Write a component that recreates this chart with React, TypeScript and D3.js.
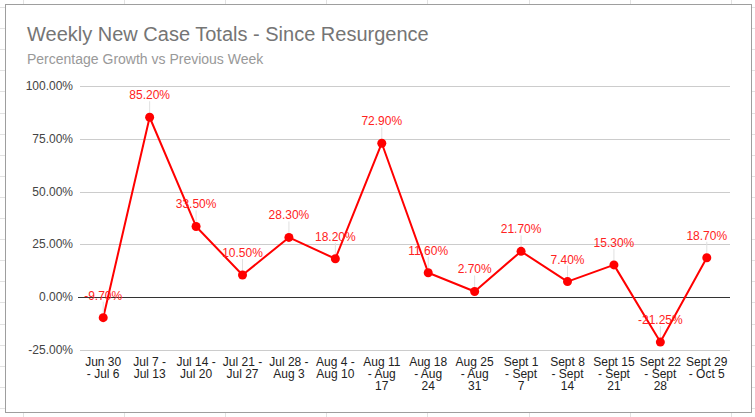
import React from 'react'
import * as d3 from 'd3'

const weeks = [
  'Jun 30 - Jul 6', 'Jul 7 - Jul 13', 'Jul 14 - Jul 20', 'Jul 21 - Jul 27',
  'Jul 28 - Aug 3', 'Aug 4 - Aug 10', 'Aug 11 - Aug 17', 'Aug 18 - Aug 24',
  'Aug 25 - Aug 31', 'Sept 1 - Sept 7', 'Sept 8 - Sept 14', 'Sept 15 - Sept 21',
  'Sept 22 - Sept 28', 'Sept 29 - Oct 5'
]

// wrapped tick labels as drawn under the axis
const weekLines = [
  ['Jun 30', '- Jul 6'], ['Jul 7 -', 'Jul 13'], ['Jul 14 -', 'Jul 20'], ['Jul 21 -', 'Jul 27'],
  ['Jul 28 -', 'Aug 3'], ['Aug 4 -', 'Aug 10'], ['Aug 11', '- Aug', '17'], ['Aug 18', '- Aug', '24'],
  ['Aug 25', '- Aug', '31'], ['Sept 1', '- Sept', '7'], ['Sept 8', '- Sept', '14'], ['Sept 15', '- Sept', '21'],
  ['Sept 22', '- Sept', '28'], ['Sept 29', '- Oct 5']
]

const growth = [-9.7, 85.2, 33.5, 10.5, 28.3, 18.2, 72.9, 11.6, 2.7, 21.7, 7.4, 15.3, -21.25, 18.7]

const yTicks = [-25, 0, 25, 50, 75, 100]

const W = 755
const H = 417
const font = '"Liberation Sans", Arial, sans-serif'

export default function App() {
  const margin = { left: 80, right: 25, top: 86, bottom: 67 }

  const x = d3.scaleBand<string>()
    .domain(weeks)
    .range([margin.left, W - margin.right])

  const y = d3.scaleLinear()
    .domain([-25, 100])
    .range([H - margin.bottom, margin.top])

  const line = d3.line<number>()
    .x((_, i) => (x(weeks[i]) as number) + x.bandwidth() / 2)
    .y(d => y(d))

  const fmt = (v: number) => v.toFixed(2) + '%'

  // spreadsheet cells behind the chart box
  const cellCols = d3.range(23, W, 101.1)
  const cellRows = d3.range(7, H, 21.1)

  return (
    <svg width={W} height={H} style={{ position: 'absolute', left: 0, top: 0, background: '#fff' }}>
      <g stroke="#e2e2e2" strokeWidth={1}>
        {cellCols.map(c => (
          <line key={'c' + c} x1={Math.round(c) + 0.5} x2={Math.round(c) + 0.5} y1={0} y2={H} />
        ))}
        {cellRows.map(r => (
          <line key={'r' + r} x1={0} x2={W} y1={Math.round(r) + 0.5} y2={Math.round(r) + 0.5} />
        ))}
      </g>
      <rect x={5.5} y={4.5} width={746} height={408} fill="#fff" stroke="#9e9e9e" strokeWidth={1} />

      <text x={27} y={41} fontFamily={font} fontSize={20} fill="#757575">
        Weekly New Case Totals - Since Resurgence
      </text>
      <text x={27} y={64} fontFamily={font} fontSize={14} fill="#999">
        Percentage Growth vs Previous Week
      </text>

      {/* gridlines + y labels */}
      {yTicks.map(t => (
        <g key={t}>
          <line
            x1={t === 0 ? margin.left - 2 : margin.left}
            x2={W - margin.right}
            y1={Math.round(y(t)) + 0.5}
            y2={Math.round(y(t)) + 0.5}
            stroke={t === 0 ? '#333' : '#ccc'}
            strokeWidth={1}
          />
          <text x={73} y={y(t) + 4} textAnchor="end" fontFamily={font} fontSize={12} fill="#444">
            {fmt(t)}
          </text>
        </g>
      ))}

      {/* x labels */}
      {weeks.map((w, i) => (
        <text key={w} textAnchor="middle" fontFamily={font} fontSize={12} fill="#222">
          {weekLines[i].map((l, j) => (
            <tspan key={j} x={(x(w) as number) + x.bandwidth() / 2} y={366 + j * 11.8}>{l}</tspan>
          ))}
        </text>
      ))}

      <path d={line(growth) as string} fill="none" stroke="#ff0000" strokeWidth={2} strokeLinejoin="round" />

      {growth.map((v, i) => {
        const cx = (x(weeks[i]) as number) + x.bandwidth() / 2
        const cy = y(v)
        return (
          <g key={i}>
            <line x1={cx} x2={cx} y1={cy - 16} y2={cy - 4} stroke="#e0e0e0" strokeWidth={1} />
            <circle cx={cx} cy={cy} r={4.5} fill="#ff0000" />
            <text x={cx} y={cy - 18} textAnchor="middle" fontFamily={font} fontSize={12} fill="#ff2222">
              {v.toFixed(2) + '%'}
            </text>
          </g>
        )
      })}
    </svg>
  )
}
